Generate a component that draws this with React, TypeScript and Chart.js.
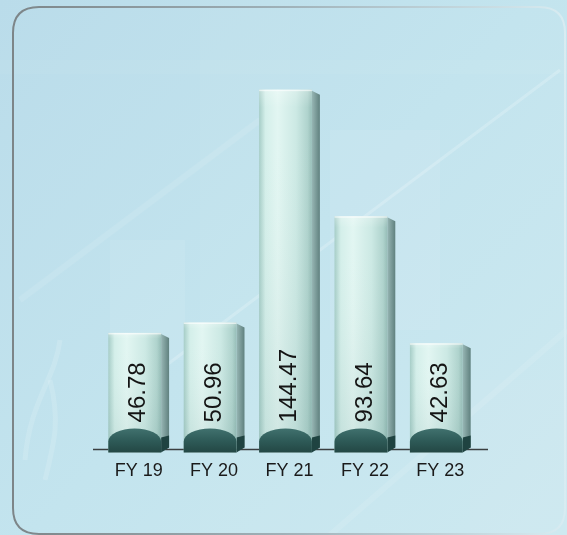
import React, { useEffect, useRef } from "react";
import { Chart, registerables } from "chart.js";

Chart.register(...registerables);

const categories: string[] = ["FY 19", "FY 20", "FY 21", "FY 22", "FY 23"];
const values: number[] = [46.78, 50.96, 144.47, 93.64, 42.63];
const valueLabels: string[] = ["46.78", "50.96", "144.47", "93.64", "42.63"];

const W = 567;
const H = 535;

const backgroundPlugin = {
  id: "bgPlugin",
  beforeDraw(chart: any) {
    const ctx = chart.ctx as CanvasRenderingContext2D;
    ctx.save();
    const g = ctx.createLinearGradient(0, 0, W, H);
    g.addColorStop(0, "#badcea");
    g.addColorStop(0.5, "#c3e4ee");
    g.addColorStop(1, "#cde9f0");
    ctx.fillStyle = g;
    ctx.fillRect(0, 0, W, H);

    // faint rectangles
    ctx.fillStyle = "rgba(255,255,255,0.07)";
    ctx.fillRect(110, 240, 75, 120);
    ctx.fillRect(330, 130, 110, 200);
    ctx.fillStyle = "rgba(255,255,255,0.04)";
    ctx.fillRect(0, 60, W, 14);
    ctx.fillRect(200, 0, 90, H);
    ctx.fillRect(470, 380, 97, 155);

    // diagonal streaks
    ctx.strokeStyle = "rgba(255,255,255,0.2)";
    ctx.lineWidth = 3;
    ctx.beginPath();
    ctx.moveTo(120, 400);
    ctx.lineTo(560, 70);
    ctx.stroke();
    ctx.strokeStyle = "rgba(255,255,255,0.1)";
    ctx.lineWidth = 6;
    ctx.beginPath();
    ctx.moveTo(20, 300);
    ctx.lineTo(260, 120);
    ctx.stroke();
    ctx.beginPath();
    ctx.moveTo(330, 535);
    ctx.lineTo(567, 330);
    ctx.stroke();
    // left wavy
    ctx.strokeStyle = "rgba(255,255,255,0.14)";
    ctx.lineWidth = 5;
    ctx.beginPath();
    ctx.moveTo(25, 460);
    ctx.bezierCurveTo(30, 400, 55, 380, 60, 340);
    ctx.stroke();
    ctx.beginPath();
    ctx.moveTo(45, 480);
    ctx.bezierCurveTo(55, 440, 60, 420, 50, 380);
    ctx.stroke();

    // rounded border
    const bg = ctx.createLinearGradient(0, 0, W, 0);
    bg.addColorStop(0, "#7b8386");
    bg.addColorStop(0.5, "#9fb1b8");
    bg.addColorStop(1, "#d8ecf2");
    ctx.strokeStyle = bg;
    ctx.lineWidth = 2;
    const x0 = 13, y0 = 7, x1 = 565, y1 = 534, r = 26;
    ctx.beginPath();
    ctx.moveTo(x0 + r, y0);
    ctx.lineTo(x1 - r, y0);
    ctx.quadraticCurveTo(x1, y0, x1, y0 + r);
    ctx.lineTo(x1, y1 - r);
    ctx.quadraticCurveTo(x1, y1, x1 - r, y1);
    ctx.lineTo(x0 + r, y1);
    ctx.quadraticCurveTo(x0, y1, x0, y1 - r);
    ctx.lineTo(x0, y0 + r);
    ctx.quadraticCurveTo(x0, y0, x0 + r, y0);
    ctx.stroke();
    ctx.restore();
  },
  beforeDatasetsDraw(chart: any) {
    const ctx = chart.ctx as CanvasRenderingContext2D;
    const area = chart.chartArea;
    const yBase = chart.scales.y.getPixelForValue(0);
    ctx.save();
    ctx.strokeStyle = "#3a3f40";
    ctx.lineWidth = 1.5;
    ctx.beginPath();
    ctx.moveTo(area.left - 4, yBase);
    ctx.lineTo(area.right + 14, yBase);
    ctx.stroke();
    ctx.restore();
  },
};

const barsPlugin = {
  id: "barsPlugin",
  afterDatasetsDraw(chart: any) {
    const ctx = chart.ctx as CanvasRenderingContext2D;
    const meta = chart.getDatasetMeta(0);
    meta.data.forEach((el: any, i: number) => {
      const { x, y, base, width } = el.getProps(["x", "y", "base", "width"], true);
      const l = x - width / 2;
      const r = x + width / 2;
      const sd = 8; // side depth
      const sk = 4; // side skew
      ctx.save();
      // side face
      const sg = ctx.createLinearGradient(r, 0, r + sd, 0);
      sg.addColorStop(0, "#97b6b4");
      sg.addColorStop(1, "#60817f");
      ctx.fillStyle = sg;
      ctx.beginPath();
      ctx.moveTo(r, y + 1);
      ctx.lineTo(r + sd, y + 1 + sk);
      ctx.lineTo(r + sd, base - 2);
      ctx.lineTo(r, base + 2);
      ctx.closePath();
      ctx.fill();
      // side bottom dark
      ctx.fillStyle = "#1f4341";
      ctx.beginPath();
      ctx.moveTo(r, base - 12);
      ctx.lineTo(r + sd, base - 14);
      ctx.lineTo(r + sd, base - 2);
      ctx.lineTo(r, base + 3);
      ctx.closePath();
      ctx.fill();

      // front face
      const fg = ctx.createLinearGradient(l, 0, r, 0);
      fg.addColorStop(0, "#a6cdc7");
      fg.addColorStop(0.12, "#d4efea");
      fg.addColorStop(0.35, "#e2f6f2");
      fg.addColorStop(0.7, "#cce9e4");
      fg.addColorStop(0.92, "#afd3cd");
      fg.addColorStop(1, "#96bdb7");
      ctx.fillStyle = fg;
      ctx.fillRect(l, y, width, base - y + 3);
      const vg = ctx.createLinearGradient(0, y, 0, base);
      vg.addColorStop(0, "rgba(255,255,255,0.25)");
      vg.addColorStop(0.05, "rgba(255,255,255,0)");
      vg.addColorStop(1, "rgba(40,90,85,0.10)");
      ctx.fillStyle = vg;
      ctx.fillRect(l, y, width, base - y + 3);
      ctx.fillStyle = "rgba(255,255,255,0.6)";
      ctx.fillRect(l, y, width, 1.5);

      // base with arch
      const ag = ctx.createLinearGradient(0, base - 22, 0, base + 3);
      ag.addColorStop(0, "#427370");
      ag.addColorStop(0.5, "#2f5c59");
      ag.addColorStop(1, "#234744");
      ctx.fillStyle = ag;
      ctx.beginPath();
      ctx.moveTo(l, base + 3);
      ctx.lineTo(l, base - 8);
      ctx.ellipse(x, base - 8, width / 2, 13, 0, Math.PI, 2 * Math.PI);
      ctx.lineTo(r, base + 3);
      ctx.closePath();
      ctx.fill();

      // value label
      ctx.translate(x + 3, base - 27);
      ctx.rotate(-Math.PI / 2);
      ctx.fillStyle = "#141414";
      ctx.font = '24px "Liberation Sans", Arial, sans-serif';
      ctx.textAlign = "left";
      ctx.textBaseline = "middle";
      ctx.fillText(valueLabels[i], 0, 1);
      ctx.restore();
    });
  },
};

export default function App() {
  const ref = useRef<HTMLCanvasElement | null>(null);
  useEffect(() => {
    if (!ref.current) return;
    const chart = new Chart(ref.current, {
      type: "bar",
      data: {
        labels: categories,
        datasets: [
          {
            data: values,
            backgroundColor: "rgba(0,0,0,0)",
            borderWidth: 0,
            barPercentage: 0.7,
            categoryPercentage: 1,
          },
        ],
      },
      options: {
        responsive: false,
        animation: false,
        devicePixelRatio: 1,
        layout: { padding: { top: 51, left: 97, right: 93, bottom: 42 } },
        plugins: { legend: { display: false }, tooltip: { enabled: false } },
        scales: {
          x: {
            grid: { display: false, drawTicks: false },
            border: { display: false },
            ticks: {
              color: "#1a1a1a",
              padding: 11,
              labelOffset: 4,
              font: { size: 18, family: '"Liberation Sans", Arial, sans-serif' },
            },
          },
          y: { display: false, min: 0, max: 160 },
        },
      },
      plugins: [backgroundPlugin, barsPlugin],
    });
    return () => chart.destroy();
  }, []);
  return (
    <div style={{ position: "fixed", left: 0, top: 0, width: W, height: H }}>
      <canvas ref={ref} width={W} height={H} style={{ display: "block" }} />
    </div>
  );
}
